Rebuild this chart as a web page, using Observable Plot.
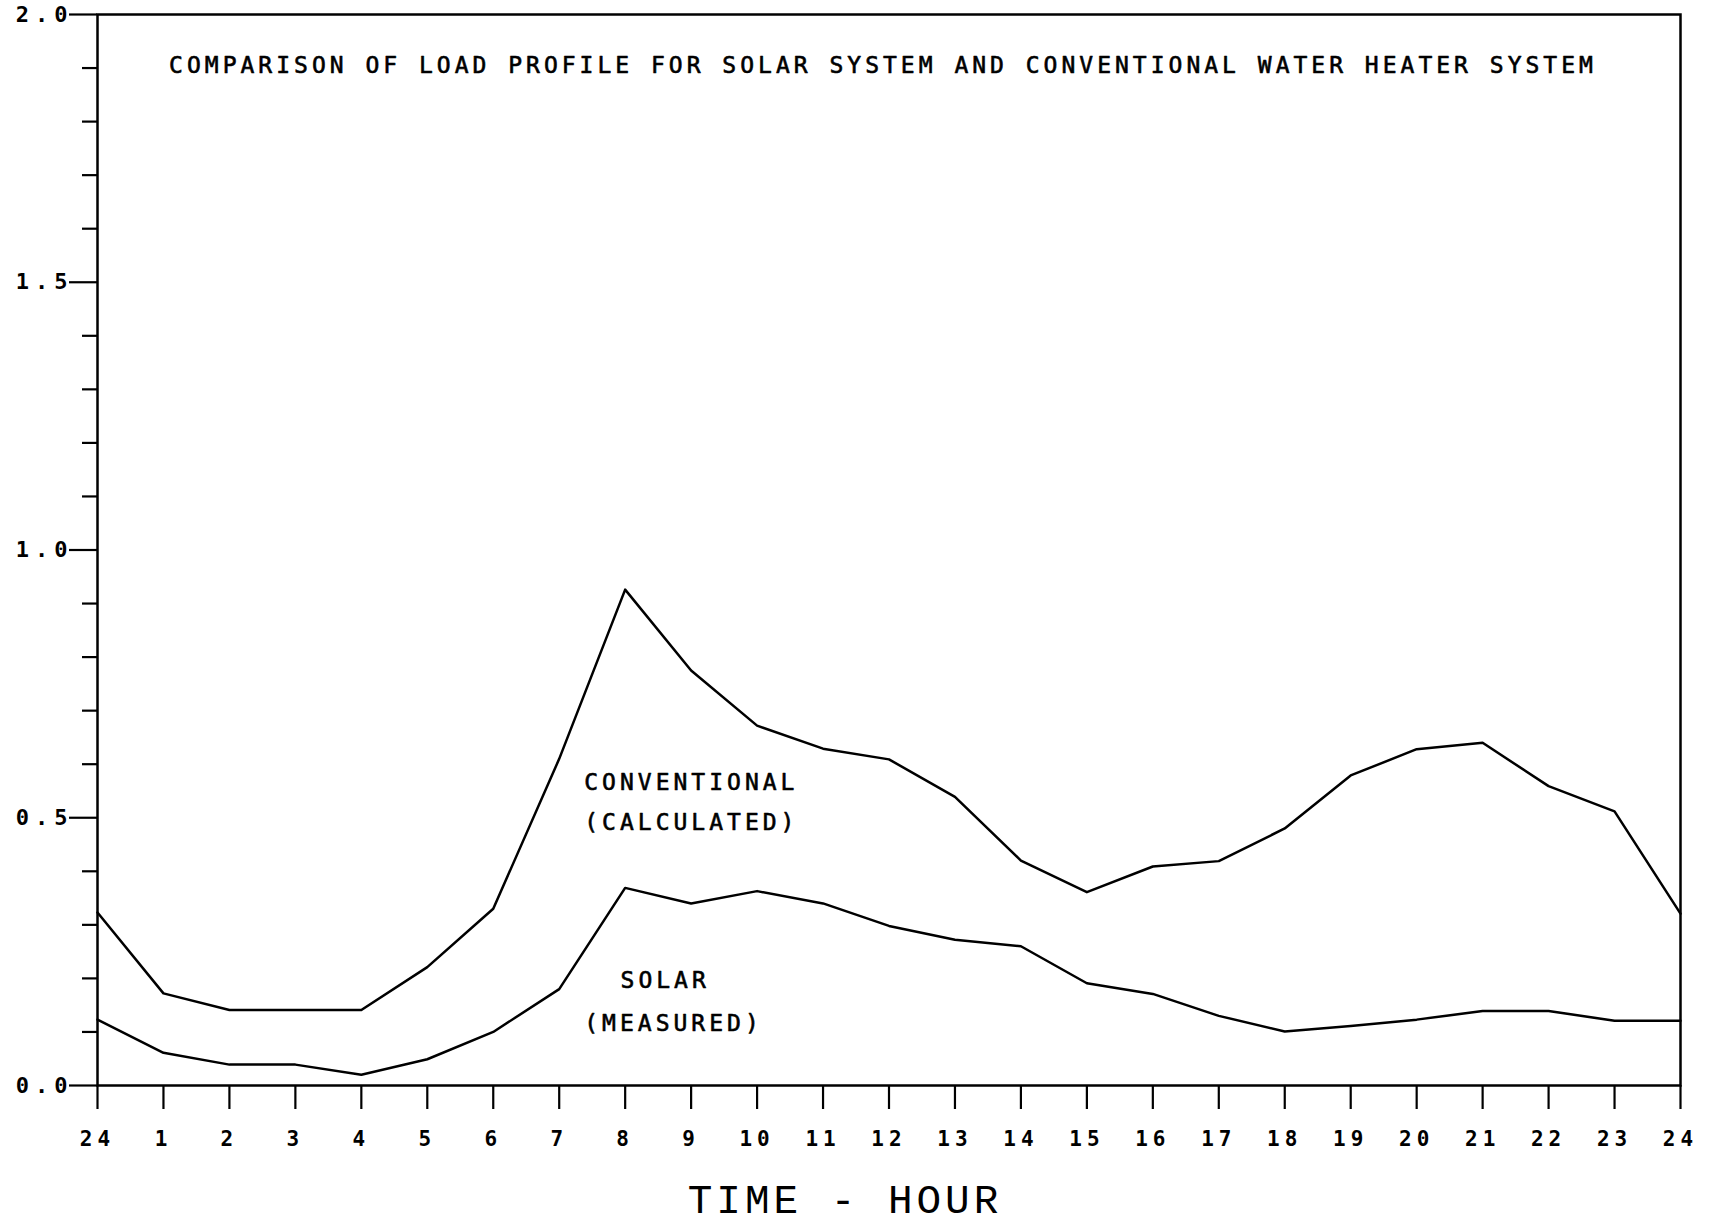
<!DOCTYPE html>
<html>
<head>
<meta charset="utf-8">
<script src="https://cdn.jsdelivr.net/npm/d3@7"></script>
<script src="https://cdn.jsdelivr.net/npm/@observablehq/plot@0.6"></script>
<style>
  html, body { margin: 0; padding: 0; background: #fff; }
  #chart g[aria-label="y-axis tick label"] text { letter-spacing: 6px; }
  #chart g[aria-label="x-axis tick label"] text { letter-spacing: 5px; }
  #chart g.annot text { letter-spacing: 4px; }
  #chart g.subtitle text { letter-spacing: 4px; }
  #chart g.xtitle text { letter-spacing: 4px; }
</style>
</head>
<body>
<div id="chart"></div>
<script>
// ---- data ----
const hours = [0, 1, 2, 3, 4, 5, 6, 7, 8, 9, 10, 11, 12, 13, 14, 15, 16, 17, 18, 19, 20, 21, 22, 23, 24];
const hourLabels = ["24", "1", "2", "3", "4", "5", "6", "7", "8", "9", "10", "11", "12",
                    "13", "14", "15", "16", "17", "18", "19", "20", "21", "22", "23", "24"];
const conventional = [0.323, 0.172, 0.141, 0.141, 0.141, 0.221, 0.330, 0.610, 0.926, 0.775, 0.672, 0.629,
                      0.609, 0.539, 0.420, 0.361, 0.409, 0.419, 0.480, 0.579, 0.628, 0.640, 0.559, 0.512, 0.321];
const solar = [0.123, 0.061, 0.039, 0.039, 0.020, 0.049, 0.100, 0.180, 0.369, 0.340, 0.363, 0.340,
               0.298, 0.272, 0.260, 0.191, 0.171, 0.130, 0.101, 0.111, 0.123, 0.139, 0.139, 0.121, 0.121];
const yMajorTicks = [0, 0.5, 1.0, 1.5, 2.0];
const yMinorTicks = [0.1, 0.2, 0.3, 0.4, 0.6, 0.7, 0.8, 0.9,
                     1.1, 1.2, 1.3, 1.4, 1.6, 1.7, 1.8, 1.9];
const subtitle = "COMPARISON OF LOAD PROFILE FOR SOLAR SYSTEM AND CONVENTIONAL WATER HEATER SYSTEM";
const xTitle = "TIME - HOUR";
const annotText = ["CONVENTIONAL", "(CALCULATED)", "SOLAR", "(MEASURED)"];
const annotHour = [7.38, 7.38, 7.93, 7.38];
const annotValue = [0.565, 0.49, 0.195, 0.115];

// ---- tables built from arrays ----
const table = [
  ...hours.map((h, i) => ({hour: h, value: conventional[i], series: "Conventional (calculated)"})),
  ...hours.map((h, i) => ({hour: h, value: solar[i], series: "Solar (measured)"}))
];
const annotations = annotText.map((t, i) => ({text: t, hour: annotHour[i], value: annotValue[i]}));

const mono = "DejaVu Sans Mono";

const chart = Plot.plot({
  width: 1719,
  height: 1231,
  marginLeft: 97,
  marginRight: 39,
  marginTop: 14,
  marginBottom: 146,
  style: {fontFamily: mono, color: "#000", background: "#fff", overflow: "visible"},
  x: {domain: [0, 24], label: null},
  y: {domain: [0, 2], label: null},
  marks: [
    Plot.axisY({ticks: yMinorTicks, tickSize: 15, tickFormat: () => "", label: null,
                stroke: "#000", strokeWidth: 2.2, strokeOpacity: 1}),
    Plot.axisY({ticks: yMajorTicks, tickSize: 28, tickPadding: -4, tickFormat: d3.format(".1f"), label: null,
                fontSize: 22, fontWeight: "bold", stroke: "#000", strokeWidth: 2.2, strokeOpacity: 1}),
    Plot.axisX({ticks: hours, tickSize: 24, tickPadding: 22, tickFormat: d => hourLabels[hours.indexOf(d)], label: null,
                fontSize: 21, fontWeight: "bold", stroke: "#000", strokeWidth: 2.2, strokeOpacity: 1}),
    Plot.frame({stroke: "#000", strokeWidth: 2.5}),
    Plot.line(table, {x: "hour", y: "value", z: "series", stroke: "#000", strokeWidth: 2.5}),
    Plot.text(annotations, {x: "hour", y: "value", text: "text", textAnchor: "start",
                            fontSize: 23, fill: "#000", stroke: "#000", strokeWidth: 0.6, className: "annot"}),
    Plot.text([subtitle], {frameAnchor: "top", dy: 42, dx: -6, text: d => d, fontSize: 23,
                           fill: "#000", stroke: "#000", strokeWidth: 0.6, className: "subtitle"}),
    Plot.text([xTitle], {frameAnchor: "bottom", dy: 127, dx: -44, text: d => d, fontSize: 41,
                         fontFamily: "Liberation Mono", fill: "#000", className: "xtitle"})
  ]
});
document.getElementById("chart").append(chart);
</script>
</body>
</html>
